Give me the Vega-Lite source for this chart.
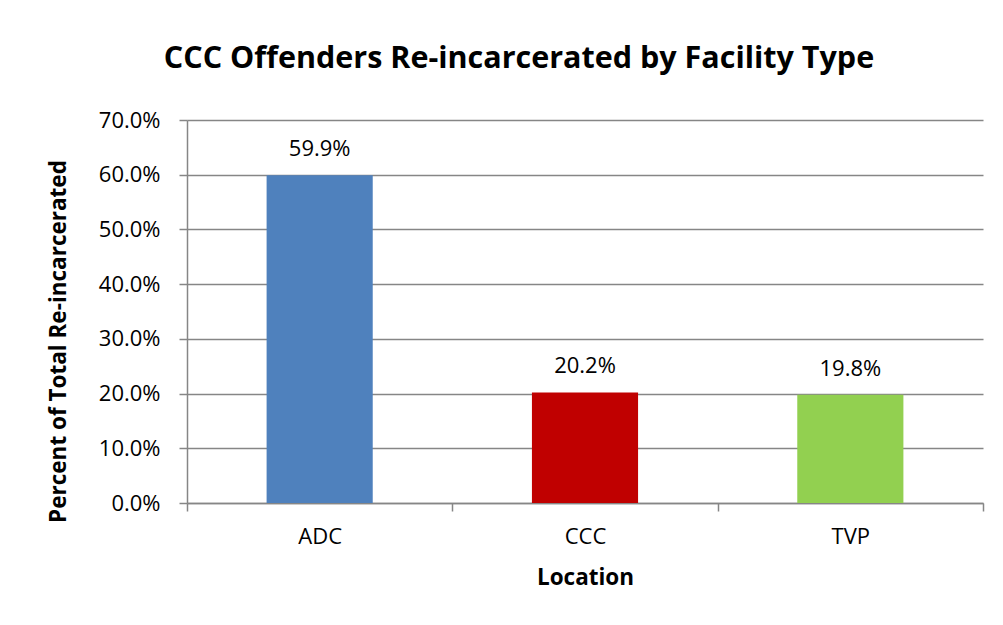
{
  "$schema": "https://vega.github.io/schema/vega-lite/v6.json",
  "autosize": "none",
  "width": 796,
  "height": 383,
  "padding": {"left": 187, "top": 120, "right": 20, "bottom": 122},
  "background": "white",
  "title": {
    "text": "CCC Offenders Re-incarcerated by Facility Type",
    "font": "Open Sans",
    "fontSize": 30.5,
    "fontWeight": "bold",
    "color": "black",
    "anchor": "middle",
    "frame": "group",
    "dx": -66,
    "baseline": "alphabetic",
    "offset": 11
  },
  "data": {
    "values": [
      {"Location": "ADC", "pct": 0.599},
      {"Location": "CCC", "pct": 0.202},
      {"Location": "TVP", "pct": 0.198}
    ]
  },
  "encoding": {
    "x": {
      "field": "Location",
      "type": "nominal",
      "sort": null,
      "scale": {"paddingInner": 0, "paddingOuter": 0},
      "axis": {
        "title": "Location",
        "labelAngle": 0,
        "tickBand": "extent",
        "tickSize": 8,
        "labelPadding": 15,
        "titlePadding": 19,
        "grid": false
      }
    },
    "y": {
      "field": "pct",
      "type": "quantitative",
      "scale": {"domain": [0, 0.7], "nice": false},
      "axis": {
        "title": "Percent of Total Re-incarcerated",
        "format": ".1%",
        "values": [0, 0.1, 0.2, 0.3, 0.4, 0.5, 0.6, 0.7],
        "tickSize": 8,
        "labelPadding": 19,
        "titlePadding": 28,
        "titleY": 221,
        "grid": true
      }
    }
  },
  "layer": [
    {
      "mark": {"type": "bar", "width": {"band": 0.4}},
      "encoding": {
        "color": {
          "field": "Location",
          "type": "nominal",
          "scale": {"domain": ["ADC", "CCC", "TVP"], "range": ["#4F81BD", "#C00000", "#92D050"]},
          "legend": null
        }
      }
    },
    {
      "mark": {"type": "text", "baseline": "alphabetic", "dy": -19, "font": "Open Sans", "fontSize": 22, "color": "black"},
      "encoding": {
        "text": {"field": "pct", "type": "quantitative", "format": ".1%"}
      }
    }
  ],
  "config": {
    "view": {"stroke": null},
    "axis": {
      "domainColor": "#868686",
      "domainWidth": 1.5,
      "tickColor": "#868686",
      "tickWidth": 1.5,
      "gridColor": "#868686",
      "gridWidth": 1.5,
      "labelFont": "Open Sans",
      "labelFontSize": 22,
      "labelColor": "black",
      "titleFont": "Open Sans",
      "titleFontSize": 22.5,
      "titleFontWeight": "bold",
      "titleColor": "black"
    }
  }
}
